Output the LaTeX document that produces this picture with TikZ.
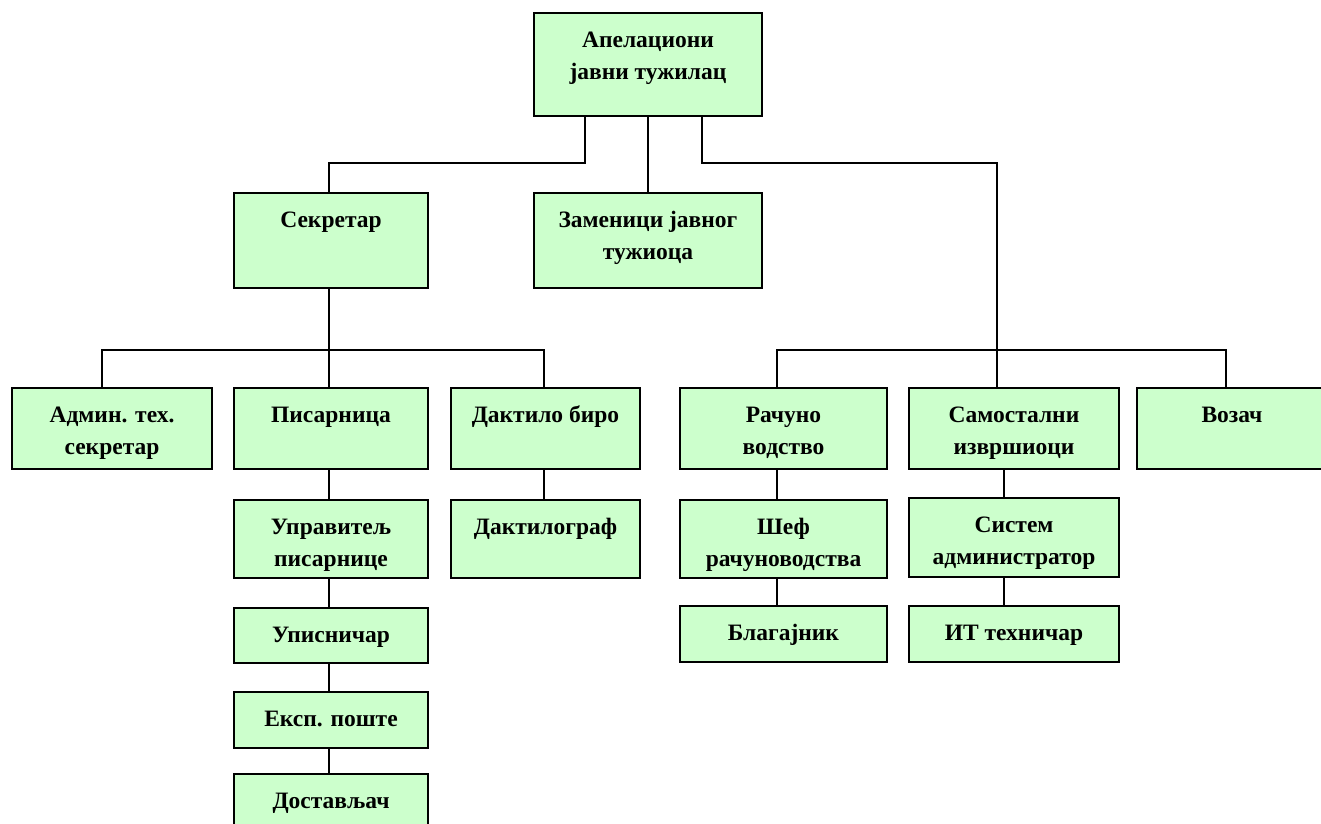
\documentclass[tikz,border=0pt]{standalone}
\usepackage{fontspec}
\setmainfont{Liberation Serif}
\definecolor{boxgreen}{HTML}{CCFFCC}
\tikzset{
  x=1pt, y=-1pt,
  box/.style={draw=black, line width=1.8pt, fill=boxgreen, inner sep=0pt, outer sep=0pt, anchor=north west,
    font=\fontsize{23.5}{32}\selectfont\bfseries},
  conn/.style={draw=black, line width=1.5pt}
}
\newcommand\obox[6]{\node[box] (#1) at (#2,#3) {\parbox[t][#5pt][t]{#4pt}{\centering\rule{0pt}{34pt}#6}};}
\begin{document}
\begin{tikzpicture}
\useasboundingbox (0,0) rectangle (1321,823);
\coordinate (busT) at (0,163);
\coordinate (busL) at (0,350);
% boxes
\obox{ap}{534}{13}{228}{103}{Апелациони\\јавни тужилац}
\obox{sek}{234}{193}{194}{95}{Секретар}
\obox{zam}{534}{193}{228}{95}{Заменици јавног\\тужиоца}
\obox{adm}{12}{388}{200}{81}{Админ. тех.\\секретар}
\obox{pis}{234}{388}{194}{81}{Писарница}
\obox{dak}{451}{388}{189}{81}{Дактило биро}
\obox{rac}{680}{388}{207}{81}{Рачуно\\водство}
\obox{sam}{909}{388}{210}{81}{Самостални\\извршиоци}
\obox{voz}{1137}{388}{190}{81}{Возач}
\obox{upr}{234}{500}{194}{78}{Управитељ\\писарнице}
\obox{dakg}{451}{500}{189}{78}{Дактилограф}
\obox{ups}{234}{608}{194}{55}{Уписничар}
\obox{eks}{234}{692}{194}{56}{Експ. поште}
\obox{dos}{234}{774}{194}{60}{Достављач}
\obox{sef}{680}{500}{207}{78}{Шеф\\рачуноводства}
\obox{sis}{909}{498}{210}{79}{Систем\\администратор}
\obox{bla}{680}{606}{207}{56}{Благајник}
\obox{it}{909}{606}{210}{56}{ИТ техничар}
% connectors
\draw[conn] ([xshift=-63pt]ap.south) -- ([xshift=-63pt]ap.south |- busT) -| ([xshift=-2pt]sek.north);
\draw[conn] (ap.south) -- (zam.north);
\draw[conn] ([xshift=54pt]ap.south) -- ([xshift=54pt]ap.south |- busT) -| ([xshift=-17pt]sam.north);
\draw[conn] ([xshift=-2pt]sek.south) -- ([xshift=-2pt]pis.north);
\draw[conn] ([xshift=-10pt]adm.north) -- ([xshift=-10pt]adm.north |- busL) -| ([xshift=-1.5pt]dak.north);
\draw[conn] ([xshift=-6.5pt]rac.north) -- ([xshift=-6.5pt]rac.north |- busL) -| ([xshift=-6pt]voz.north);
\draw[conn] ([xshift=-2pt]pis.south) -- ([xshift=-2pt]upr.north);
\draw[conn] ([xshift=-2pt]upr.south) -- ([xshift=-2pt]ups.north);
\draw[conn] ([xshift=-2pt]ups.south) -- ([xshift=-2pt]eks.north);
\draw[conn] ([xshift=-2pt]eks.south) -- ([xshift=-2pt]dos.north);
\draw[conn] ([xshift=-1.5pt]dak.south) -- ([xshift=-1.5pt]dakg.north);
\draw[conn] ([xshift=-6.5pt]rac.south) -- ([xshift=-6.5pt]sef.north);
\draw[conn] ([xshift=-6.5pt]sef.south) -- ([xshift=-6.5pt]bla.north);
\draw[conn] ([xshift=-10pt]sam.south) -- ([xshift=-10pt]sis.north);
\draw[conn] ([xshift=-10pt]sis.south) -- ([xshift=-10pt]it.north);
\end{tikzpicture}
\end{document}
